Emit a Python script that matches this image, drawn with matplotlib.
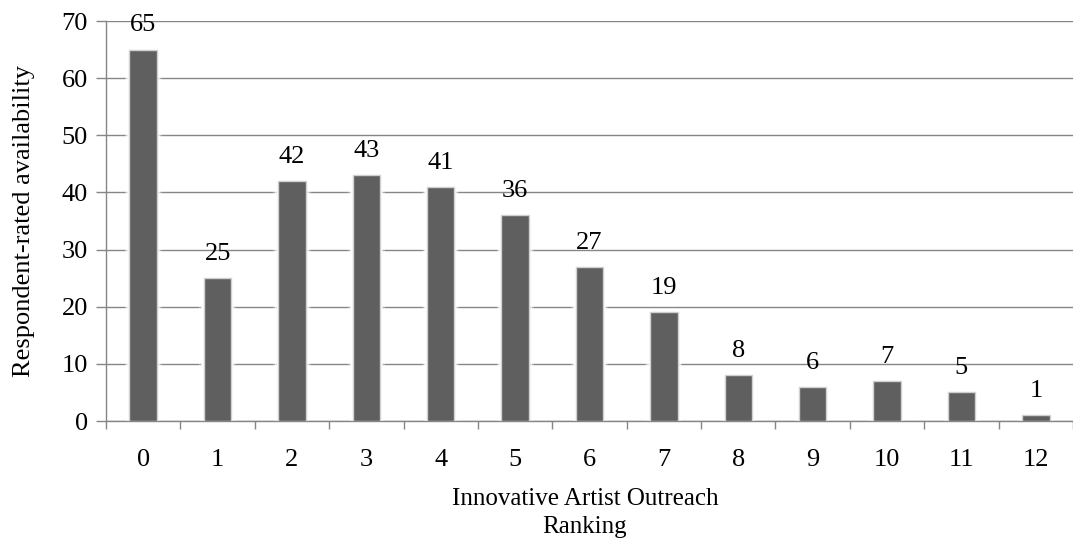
import numpy as np
import matplotlib
matplotlib.use('Agg')
from matplotlib import pyplot as plt

rankings = ['0', '1', '2', '3', '4', '5', '6', '7', '8', '9', '10', '11', '12']
counts = [65, 25, 42, 43, 41, 36, 27, 19, 8, 6, 7, 5, 1]

plt.rcParams['font.family'] = ['Liberation Serif', 'DejaVu Serif']

fig = plt.figure(figsize=(10.73, 5.56), dpi=100)
ax = fig.add_axes([106 / 1073, 1 - 421 / 556, 1 - 106 / 1073, 400 / 556])

x = np.arange(len(rankings))
grey = '#868686'
fs = 19

# soft glow behind the bars
for w, a in [(0.5, 0.3), (0.45, 0.6), (0.41, 0.95)]:
    ax.bar(x, counts, width=w, color='white', alpha=a, zorder=2)
ax.bar(x, counts, width=0.37, color='#5f5f5f', edgecolor='#d0d0d0',
       linewidth=1.0, zorder=3)

for xi, v in zip(x, counts):
    ax.text(xi, v + 2.3, str(v), ha='center', va='bottom', fontsize=fs, zorder=4)

ax.set_xlim(-0.5, 12.42)
ax.set_ylim(0, 70)
ax.set_yticks(np.arange(0, 71, 10))
ax.yaxis.grid(True, color=grey, linewidth=1.0, zorder=1)
ax.set_axisbelow(True)

ax.set_xticks(x)
ax.set_xticklabels(rankings)
ax.set_xticks(np.arange(-0.5, 12.6, 1), minor=True)
ax.tick_params(axis='x', which='major', length=0, pad=20, labelsize=fs)
ax.tick_params(axis='x', which='minor', length=6, color=grey, width=1.0)
ax.tick_params(axis='y', length=7, color=grey, width=1.0, labelsize=fs, pad=6)

for s in ['top', 'right']:
    ax.spines[s].set_visible(False)
for s in ['left', 'bottom']:
    ax.spines[s].set_color(grey)
    ax.spines[s].set_linewidth(1.0)

ax.set_ylabel('Respondent-rated availability', fontsize=fs, labelpad=19)
fig.text(585 / 1073, 1 - 513 / 556, 'Innovative Artist Outreach\nRanking',
         ha='center', va='center', fontsize=18, linespacing=1.3)

plt.savefig('out.png', dpi=100)
